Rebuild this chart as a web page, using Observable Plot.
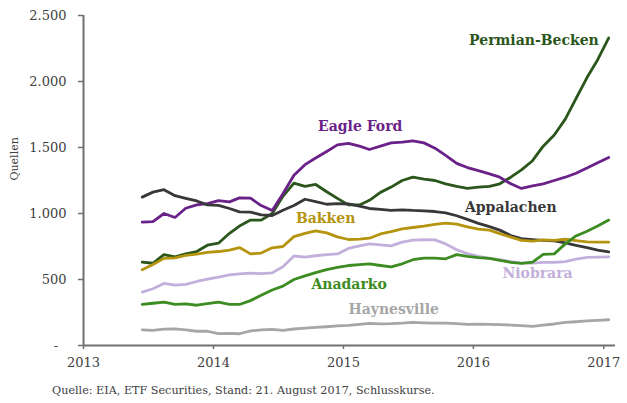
<!DOCTYPE html>
<html><head><meta charset="utf-8">
<script src="https://cdn.jsdelivr.net/npm/d3@7"></script>
<script src="https://cdn.jsdelivr.net/npm/@observablehq/plot@0.6"></script>
<style>
body{margin:0;background:#fff;}
#chart{position:relative;width:627px;height:403px;}
#cap{position:absolute;left:52px;top:384px;font-family:"DejaVu Serif",serif;font-size:11.2px;color:#404040;white-space:nowrap;}
</style></head>
<body><div id="chart"><div id="plot"></div><div id="cap">Quelle: EIA, ETF Securities, Stand: 21. August 2017, Schlusskurse.</div></div>
<script>
const months = ["2013-06","2013-07","2013-08","2013-09","2013-10","2013-11","2013-12",
"2014-01","2014-02","2014-03","2014-04","2014-05","2014-06","2014-07","2014-08","2014-09","2014-10","2014-11","2014-12",
"2015-01","2015-02","2015-03","2015-04","2015-05","2015-06","2015-07","2015-08","2015-09","2015-10","2015-11","2015-12",
"2016-01","2016-02","2016-03","2016-04","2016-05","2016-06","2016-07","2016-08","2016-09","2016-10","2016-11","2016-12",
"2017-01"];
const permian = [631,623,689,672,695,712,760,775,850,905,950,950,1000,1130,1230,1205,1220,1165,1115,1065,1065,1100,1160,1200,1250,1275,1260,1250,1225,1205,1190,1200,1205,1225,1275,1330,1400,1510,1595,1715,1870,2030,2165,2330];
const eagleFord = [934,939,1000,970,1040,1065,1075,1098,1088,1118,1116,1060,1023,1150,1290,1370,1420,1470,1520,1532,1510,1485,1510,1535,1540,1550,1535,1495,1440,1380,1348,1325,1300,1275,1225,1190,1210,1225,1250,1275,1305,1345,1385,1425];
const appalachen = [1124,1162,1180,1135,1115,1095,1065,1061,1038,1012,1010,990,985,1025,1060,1108,1090,1070,1075,1072,1055,1038,1032,1024,1028,1023,1020,1015,1005,983,955,925,900,874,833,810,802,796,792,778,758,742,723,710];
const bakken = [573,614,660,664,682,693,705,712,723,742,694,700,740,750,825,850,868,853,823,803,806,813,845,862,884,894,905,918,927,920,898,882,874,848,821,797,790,800,797,805,795,785,783,783];
const niobrara = [404,430,470,457,463,485,503,518,535,542,548,545,550,597,678,670,680,688,694,735,755,770,762,755,783,798,801,800,770,725,696,675,660,650,635,624,624,630,630,636,655,667,670,672];
const anadarko = [311,320,328,312,315,305,318,328,312,311,340,380,420,450,500,528,552,575,592,606,612,618,606,595,619,650,662,662,657,688,675,666,660,645,630,622,631,690,694,770,830,865,905,950];
const haynesville = [119,114,124,126,118,108,108,90,92,89,110,118,122,115,125,132,137,142,148,152,160,167,164,165,169,175,172,169,169,165,160,162,160,158,155,150,145,155,163,175,180,186,191,195];

const seriesNames = ["Permian-Becken","Eagle Ford","Appalachen","Bakken","Niobrara","Anadarko","Haynesville"];
const seriesValues = [permian, eagleFord, appalachen, bakken, niobrara, anadarko, haynesville];
const seriesColors = ["#2b561b","#6a2289","#383838","#b5940f","#c3afdb","#3c8c22","#a6a6a6"];

const labelDates = ["2016-06-19","2015-02-17","2016-04-15","2014-11-12","2016-06-29","2015-01-17","2015-05-22"];
const labelValues = [2311,1659,1045,962,545,462,273];

const yTicks = [0,500,1000,1500,2000,2500];
const xTickYears = [2013,2014,2015,2016,2017];

const rows = [];
seriesNames.forEach((name,k)=>{
  months.forEach((m,i)=>rows.push({name, date:new Date(m+"-15"), value:seriesValues[k][i]}));
});
const labels = seriesNames.map((name,k)=>({name, date:new Date(labelDates[k]), value:labelValues[k]}));
const colorOf = Object.fromEntries(seriesNames.map((n,k)=>[n,seriesColors[k]]));

const x0 = new Date(Date.UTC(2013,0,1));
const plot = Plot.plot({
  width: 627, height: 380,
  marginLeft: 83, marginRight: 12, marginTop: 15, marginBottom: 35,
  style: {fontFamily: "DejaVu Serif, serif", fontSize: "13px", color: "#404040", background: "#fff"},
  x: {type: "utc", domain: [x0, new Date(Date.UTC(2017,1,3))]},
  y: {domain: [0, 2500]},
  marks: [
    Plot.lineY(rows, {x:"date", y:"value", z:"name", stroke: d=>colorOf[d.name], strokeWidth: 2.8, strokeLinejoin:"round"}),
    Plot.ruleY([0], {stroke:"#707070", strokeWidth:2}),
    Plot.ruleX([x0], {stroke:"#707070", strokeWidth:2}),
    Plot.axisY({ticks: yTicks, tickSize: 5, tickPadding: 12, stroke:"#707070", strokeWidth:1.5, fontSize: 13,
      tickFormat: d => d === 0 ? "-\u00a0\u00a0" : d3.format(",")(d).replace(/,/g,"."), label: null}),
    Plot.axisX({ticks: xTickYears.map(y=>new Date(Date.UTC(y,0,1))), tickSize: 4, tickPadding: 8, stroke:"#707070", strokeWidth:1.5, fontSize: 13,
      tickFormat: d3.utcFormat("%Y"), label: null}),
    Plot.text(["Quellen"], {frameAnchor:"left", dx:-69, rotate:-90, fontSize:11, fill:"#404040"}),
    Plot.text(labels, {x:"date", y:"value", text:"name", fill: d=>colorOf[d.name], fontWeight:"bold", fontSize:14})
  ]
});
document.getElementById("plot").appendChild(plot);
</script>
</body></html>
